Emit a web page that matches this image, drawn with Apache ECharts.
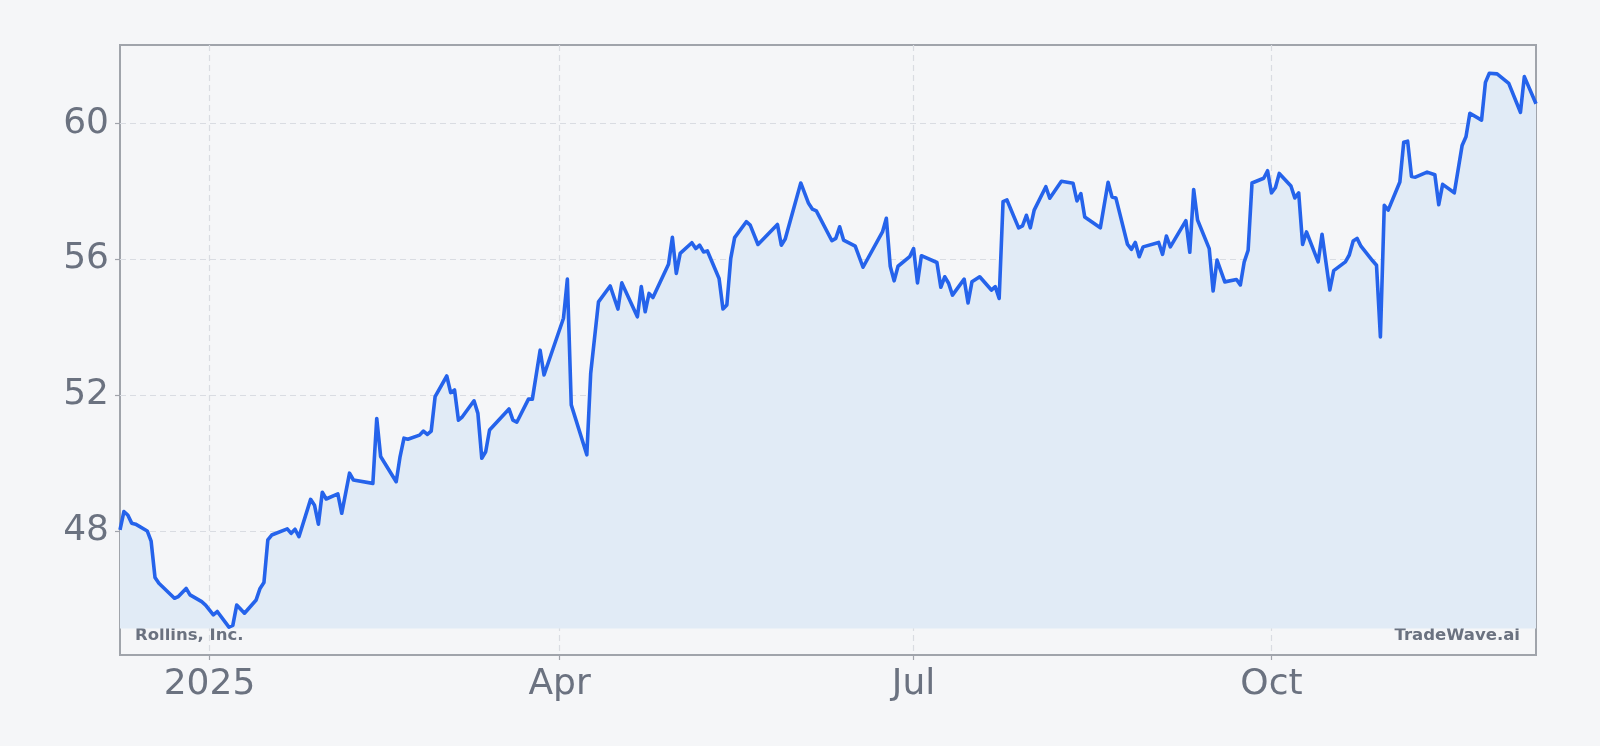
<!DOCTYPE html>
<html>
<head>
<meta charset="utf-8">
<title>Rollins, Inc.</title>
<script src="https://cdn.jsdelivr.net/npm/echarts@6/dist/echarts.min.js"></script>
<style>
  html, body { margin: 0; padding: 0; background: #f5f6f8; }
  #chart { width: 1600px; height: 746px; }
</style>
</head>
<body>
<div id="chart"></div>
<script>
// closing prices (trading days only)
const dates = [
  '2024-12-09', '2024-12-10', '2024-12-11', '2024-12-12', '2024-12-13', '2024-12-16', '2024-12-17', '2024-12-18',
  '2024-12-19', '2024-12-23', '2024-12-24', '2024-12-26', '2024-12-27', '2024-12-30', '2024-12-31', '2025-01-02',
  '2025-01-03', '2025-01-06', '2025-01-07', '2025-01-08', '2025-01-10', '2025-01-13', '2025-01-14', '2025-01-15',
  '2025-01-16', '2025-01-17', '2025-01-21', '2025-01-22', '2025-01-23', '2025-01-24', '2025-01-27', '2025-01-28',
  '2025-01-29', '2025-01-30', '2025-01-31', '2025-02-03', '2025-02-04', '2025-02-06', '2025-02-07', '2025-02-12',
  '2025-02-13', '2025-02-14', '2025-02-18', '2025-02-19', '2025-02-20', '2025-02-21', '2025-02-24', '2025-02-25',
  '2025-02-26', '2025-02-27', '2025-02-28', '2025-03-03', '2025-03-04', '2025-03-05', '2025-03-06', '2025-03-07',
  '2025-03-10', '2025-03-11', '2025-03-12', '2025-03-13', '2025-03-14', '2025-03-19', '2025-03-20', '2025-03-21',
  '2025-03-24', '2025-03-25', '2025-03-27', '2025-03-28', '2025-04-02', '2025-04-03', '2025-04-04', '2025-04-08',
  '2025-04-09', '2025-04-11', '2025-04-14', '2025-04-16', '2025-04-17', '2025-04-21', '2025-04-22', '2025-04-23',
  '2025-04-24', '2025-04-25', '2025-04-29', '2025-04-30', '2025-05-01', '2025-05-02', '2025-05-05', '2025-05-06',
  '2025-05-07', '2025-05-08', '2025-05-09', '2025-05-12', '2025-05-13', '2025-05-14', '2025-05-15', '2025-05-16',
  '2025-05-19', '2025-05-20', '2025-05-22', '2025-05-27', '2025-05-28', '2025-05-29', '2025-06-02', '2025-06-04',
  '2025-06-05', '2025-06-06', '2025-06-10', '2025-06-11', '2025-06-12', '2025-06-13', '2025-06-16', '2025-06-18',
  '2025-06-23', '2025-06-24', '2025-06-25', '2025-06-26', '2025-06-27', '2025-06-30', '2025-07-01', '2025-07-02',
  '2025-07-03', '2025-07-07', '2025-07-08', '2025-07-09', '2025-07-10', '2025-07-11', '2025-07-14', '2025-07-15',
  '2025-07-16', '2025-07-18', '2025-07-21', '2025-07-22', '2025-07-23', '2025-07-24', '2025-07-25', '2025-07-28',
  '2025-07-29', '2025-07-30', '2025-07-31', '2025-08-01', '2025-08-04', '2025-08-05', '2025-08-08', '2025-08-11',
  '2025-08-12', '2025-08-13', '2025-08-14', '2025-08-18', '2025-08-20', '2025-08-21', '2025-08-22', '2025-08-25',
  '2025-08-26', '2025-08-27', '2025-08-28', '2025-08-29', '2025-09-02', '2025-09-03', '2025-09-04', '2025-09-05',
  '2025-09-09', '2025-09-10', '2025-09-11', '2025-09-12', '2025-09-15', '2025-09-16', '2025-09-17', '2025-09-19',
  '2025-09-22', '2025-09-23', '2025-09-24', '2025-09-25', '2025-09-26', '2025-09-29', '2025-09-30', '2025-10-01',
  '2025-10-02', '2025-10-03', '2025-10-06', '2025-10-07', '2025-10-08', '2025-10-09', '2025-10-10', '2025-10-13',
  '2025-10-14', '2025-10-16', '2025-10-17', '2025-10-20', '2025-10-21', '2025-10-22', '2025-10-23', '2025-10-24',
  '2025-10-27', '2025-10-28', '2025-10-29', '2025-10-30', '2025-10-31', '2025-11-03', '2025-11-04', '2025-11-05',
  '2025-11-06', '2025-11-07', '2025-11-10', '2025-11-12', '2025-11-13', '2025-11-14', '2025-11-17', '2025-11-19',
  '2025-11-20', '2025-11-21', '2025-11-24', '2025-11-25', '2025-11-26', '2025-11-28', '2025-12-01', '2025-12-04',
  '2025-12-05', '2025-12-08'
];
const prices = [
  48.03, 48.57, 48.47, 48.23, 48.2, 48.0, 47.7, 46.63,
  46.46, 46.02, 46.07, 46.31, 46.12, 45.92, 45.82, 45.53,
  45.63, 45.17, 45.22, 45.82, 45.58, 45.97, 46.31, 46.48,
  47.74, 47.88, 48.06, 47.93, 48.05, 47.83, 48.93, 48.76,
  48.2, 49.14, 48.94, 49.09, 48.52, 49.7, 49.5, 49.4,
  51.31, 50.19, 49.45, 50.19, 50.73, 50.7, 50.82, 50.94,
  50.84, 50.94, 51.95, 52.56, 52.07, 52.15, 51.26, 51.36,
  51.83, 51.46, 50.14, 50.33, 50.97, 51.59, 51.26, 51.2,
  51.88, 51.88, 53.32, 52.59, 54.26, 55.41, 51.71, 50.24,
  52.64, 54.74, 55.21, 54.53, 55.3, 54.3, 55.19, 54.45,
  54.99, 54.87, 55.85, 56.64, 55.58, 56.17, 56.48, 56.31,
  56.41, 56.21, 56.24, 55.43, 54.53, 54.65, 56.02, 56.63,
  57.1, 57.0, 56.43, 57.02, 56.41, 56.59, 58.24, 57.64,
  57.47, 57.42, 56.54, 56.61, 56.95, 56.56, 56.38, 55.76,
  56.8, 57.2, 55.79, 55.36, 55.79, 56.07, 56.31, 55.3,
  56.1, 55.9, 55.17, 55.48, 55.29, 54.94, 55.41, 54.71,
  55.33, 55.48, 55.09, 55.19, 54.84, 57.69, 57.74, 56.92,
  56.98, 57.29, 56.92, 57.44, 58.13, 57.79, 58.29, 58.23,
  57.71, 57.93, 57.24, 56.92, 58.26, 57.83, 57.8, 56.43,
  56.29, 56.49, 56.07, 56.36, 56.49, 56.14, 56.68, 56.36,
  57.13, 56.2, 58.05, 57.15, 56.31, 55.06, 55.97, 55.33,
  55.4, 55.24, 55.92, 56.26, 58.24, 58.38, 58.6, 57.95,
  58.1, 58.52, 58.15, 57.8, 57.95, 56.43, 56.8, 55.92,
  56.73, 55.09, 55.66, 55.92, 56.12, 56.53, 56.61, 56.38,
  55.95, 55.82, 53.71, 57.58, 57.44, 58.27, 59.44, 59.47,
  58.43, 58.41, 58.56, 58.48, 57.6, 58.2, 57.95, 59.34,
  59.6, 60.29, 60.09, 61.2, 61.47, 61.45, 61.17, 60.32,
  61.37, 60.57
];
const xTicks = ['2025-01-01', '2025-04-01', '2025-07-01', '2025-10-01'];
const yTicks = [48, 52, 56, 60];
const monthNames = ['Jan', 'Feb', 'Mar', 'Apr', 'May', 'Jun', 'Jul', 'Aug', 'Sep', 'Oct', 'Nov', 'Dec'];

function toTime(s) {
  const p = s.split('-');
  return new Date(+p[0], +p[1] - 1, +p[2]).getTime();
}

const points = dates.map((d, i) => [toTime(d), prices[i]]);
const labelColor = '#6b7280';
const gridColor = '#d9dce2';
const spineColor = '#a0a4ab';

let myChart = echarts.init(document.getElementById('chart'));
myChart.setOption({
  animation: false,
  backgroundColor: '#f5f6f8',
  textStyle: { fontFamily: 'DejaVu Sans' },
  grid: {
    left: 120, right: 64, top: 45, bottom: 91,
    show: true,
    borderColor: spineColor,
    borderWidth: 2,
    backgroundColor: 'transparent'
  },
  // x is a plain value axis holding timestamps, so the quarter ticks can be set by hand
  xAxis: {
    type: 'value',
    min: toTime(dates[0]),
    max: toTime(dates[dates.length - 1]),
    axisLine: { show: false },
    axisTick: {
      show: true, length: 5, customValues: xTicks.map(toTime),
      lineStyle: { color: spineColor, width: 1.2 }
    },
    axisLabel: {
      customValues: xTicks.map(toTime),
      fontSize: 36,
      color: labelColor,
      margin: 12,
      formatter: function (v) {
        const d = new Date(v);
        return d.getMonth() === 0 ? String(d.getFullYear()) : monthNames[d.getMonth()];
      }
    },
    splitLine: {
      show: true,
      lineStyle: { color: gridColor, type: [6, 4], width: 1.2 }
    }
  },
  yAxis: {
    type: 'value',
    min: 44.35,
    max: 62.3,
    axisLine: { show: false },
    axisTick: {
      show: true, length: 5, customValues: yTicks,
      lineStyle: { color: spineColor, width: 1.2 }
    },
    axisLabel: {
      customValues: yTicks,
      fontSize: 36,
      color: labelColor,
      margin: 11,
      padding: [4, 0, 0, 0]
    },
    splitLine: {
      show: true,
      lineStyle: { color: gridColor, type: [6, 4], width: 1.2 }
    }
  },
  series: [{
    type: 'line',
    data: points,
    showSymbol: false,
    lineStyle: { color: '#2563eb', width: 3.6, join: 'round' },
    itemStyle: { color: '#2563eb' },
    areaStyle: { color: '#e1ebf6', opacity: 1, origin: 45.13 }
  }],
  graphic: [
    {
      type: 'text', left: 135, top: 627,
      style: { text: 'Rollins, Inc.', fill: labelColor, font: 'bold 16.5px "DejaVu Sans"' }
    },
    {
      type: 'text', right: 80, top: 627,
      style: { text: 'TradeWave.ai', fill: labelColor, font: 'bold 16.5px "DejaVu Sans"' }
    }
  ]
});
</script>
</body>
</html>
